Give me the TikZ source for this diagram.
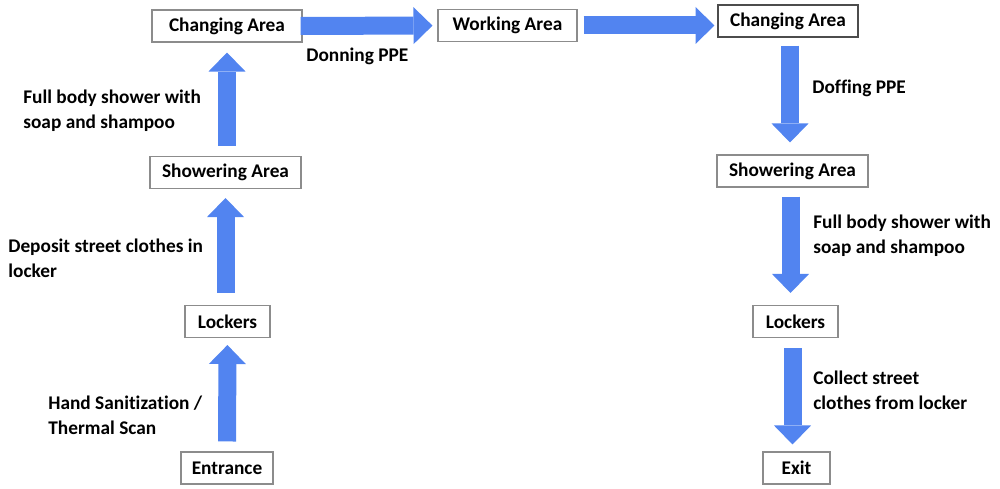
\documentclass[tikz,border=0pt]{standalone}
\usepackage{fontspec}
\setmainfont{Carlito}[Ligatures=NoCommon]
\usetikzlibrary{arrows.meta, positioning, calc}
\definecolor{flowblue}{RGB}{82,132,240}
\definecolor{boxgray}{RGB}{140,140,140}
\tikzset{
	area/.style={draw=boxgray, line width=0.6pt, rectangle, inner sep=2pt, minimum height=0.64cm, fill=white, font=\fontsize{11pt}{14pt}\selectfont\bfseries},
	note/.style={anchor=west, align=left, inner sep=0pt, font=\fontsize{11pt}{14pt}\selectfont\bfseries},
	% blue block arrows between the areas
	flow/.style={draw=flowblue, line width=0.36cm, -{Triangle[width=0.74cm, length=0.38cm, line width=0pt]}},
}

\begin{document}
\begin{tikzpicture}[x=0.02cm, y=-0.02cm]
		\useasboundingbox (0,0) rectangle (1000,489);
		
		% way in
		\node (entrance) [area, minimum width=1.84cm] at (227,468) {Entrance};
		\node (lockersin) [area, minimum width=1.7cm] at (227.5,321.5) {Lockers};
		\node (showerin) [area, minimum width=3.02cm] at (225.5,172.5) {Showering Area};
		\node (changein) [area, minimum width=3cm] at (227,26) {Changing Area};
		
		\node (work) [area, minimum width=2.78cm] at (507.5,25.5) {Working Area};
		
		% way out
		\node (changeout) [area, minimum width=2.8cm, draw=black!70] at (788,21) {Changing Area};
		\node (showerout) [area, minimum width=3.02cm] at (792.5,171) {Showering Area};
		\node (lockersout) [area, minimum width=1.7cm] at (795.5,321.5) {Lockers};
		\node (exit) [area, minimum width=1.34cm] at (796.5,468) {Exit};
		
		\node (sanit) [note] at (48,415) {Hand Sanitization /\\Thermal Scan};
		\node (deposit) [note] at (8,258.5) {Deposit street clothes in\\locker};
		\node (showerup) [note] at (23,110.5) {Full body shower with\\soap and shampoo};
		\node (donning) [note] at (306,56) {Donning PPE};
		\node (doffing) [note] at (812,88) {Doffing PPE};
		\node (showerdown) [note] at (813,236) {Full body shower with\\soap and shampoo};
		\node (collect) [note] at (813,390) {Collect street\\clothes from locker};
		
		\begin{scope}[flow]
			\draw [shorten <=0.2cm, shorten >=0.14cm] (entrance) -- (lockersin);
			\draw [shorten <=0.24cm, shorten >=0.18cm] (lockersin.north -| showerin) -- (showerin);
			\draw [shorten <=0.2cm, shorten >=0.2cm] (showerin.north -| changein) -- (changein);
			\draw [shorten <=-0.04cm, shorten >=0.1cm] (changein) -- (work);
			\draw [shorten <=0.12cm, shorten >=0.06cm] (work.east) -- (work.east -| changeout.west);
			\draw [shorten <=0.16cm, shorten >=0.24cm] ($(changeout.south)+(2,0)$) -- (showerout.north -| {$(changeout.south)+(2,0)$});
			\draw [shorten <=0.18cm, shorten >=0.24cm] ($(showerout.south)+(-2,0)$) -- ($(lockersout.north)+(-5,0)$);
			\draw [shorten <=0.2cm, shorten >=0.14cm] ($(lockersout.south)+(-3,0)$) -- ($(exit.north)+(-4,0)$);
		\end{scope}
	\end{tikzpicture}
\end{document}
